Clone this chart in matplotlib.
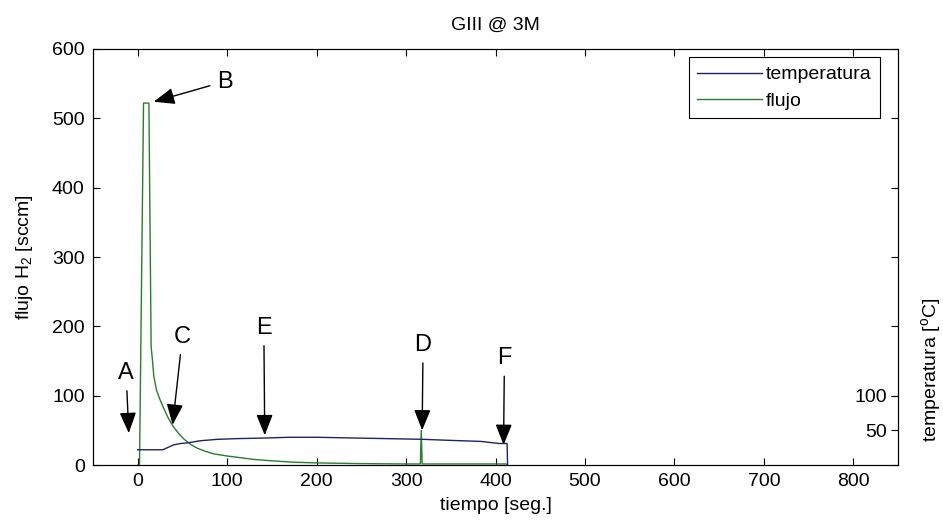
import matplotlib.pyplot as plt

plt.rcParams['font.family'] = ['Liberation Sans', 'DejaVu Sans']
plt.rcParams['mathtext.fontset'] = 'custom'
plt.rcParams['mathtext.rm'] = 'Liberation Sans'
plt.rcParams['mathtext.it'] = 'Liberation Sans'

# flujo de H2 [sccm] vs tiempo [seg.]
t_flujo = [0, 2, 6.5, 12.5, 15, 16, 18, 21, 25, 29, 34, 40, 46, 52, 60, 67, 75, 85,
           100, 112, 130, 150, 175, 200, 250, 300, 316, 317, 318, 412, 413]
flujo = [0, 0, 522, 522, 170, 158, 128, 108, 94, 82, 68, 55, 45, 37, 29, 24, 20, 16,
         13, 11, 8, 6, 4, 3, 2, 1.5, 1.5, 50, 1.5, 1.5, 0]

# temperatura [oC] vs tiempo [seg.]
t_temp = [0, 28, 35, 40, 48, 56, 70, 89, 110, 145, 170, 200, 240, 280, 320, 339,
          384, 404, 413, 413.5]
temp = [22, 22, 26, 29, 31, 32, 35, 37, 38, 39, 40, 40, 39, 38, 37, 36,
        34, 31, 31, 0]

# etiquetas: (letra, x texto, y texto, x punta, y punta)
etiquetas = [
    ('A', -13, 133, -10, 46),
    ('B', 97, 553, 18, 524),
    ('C', 50, 185, 39, 58),
    ('E', 141, 198, 142, 43),
    ('D', 319, 173, 318, 50),
    ('F', 410, 154, 409, 29),
]

fig = plt.figure(figsize=(9.43, 5.25), dpi=100)
ax = fig.add_axes([93 / 943, 60 / 525, 805 / 943, 416 / 525])
ax2 = ax.twinx()

c_temp = '#1f2366'
c_flujo = '#2a7d2e'

l_flujo, = ax.plot(t_flujo, flujo, color=c_flujo, lw=1.0)
l_temp, = ax2.plot(t_temp, temp, color=c_temp, lw=1.0)

ax.set_xlim(-50, 850)
ax.set_ylim(0, 600)
ax2.set_ylim(0, 600)
ax.set_xticks(range(0, 801, 100))
ax.set_yticks(range(0, 601, 100))
ax2.set_yticks([50, 100])

ax.tick_params(direction='in', length=5, width=0.8, labelsize=14, top=True, right=True,
               pad=6)
ax2.tick_params(axis='y', direction='in', length=5, width=0.8, labelsize=14, pad=-8)
for lbl in ax2.get_yticklabels():
    lbl.set_horizontalalignment('right')

for a in (ax, ax2):
    for s in a.spines.values():
        s.set_linewidth(0.8)

ax.set_title('GIII @ 3M', fontsize=14, pad=14)
ax.set_xlabel('tiempo [seg.]', fontsize=14, labelpad=5)
ax.set_ylabel('flujo H$_2$ [sccm]', fontsize=14, labelpad=12)
ax2.set_ylabel(r'temperatura [$^{\mathrm{o}}$C]', fontsize=14)
ax2.yaxis.set_label_coords(1.026, 0.228)

for letra, xt, yt, xp, yp in etiquetas:
    ax.annotate(letra, xy=(xp, yp), xytext=(xt, yt), ha='center', va='center',
                fontsize=17,
                arrowprops=dict(arrowstyle='-|>,head_length=0.75,head_width=0.3',
                                color='black', lw=1.0, shrinkA=3, shrinkB=0))

leg = ax2.legend([l_temp, l_flujo], ['temperatura', 'flujo'], loc='upper right',
                 bbox_to_anchor=(880 / 943, 1 - 57 / 525), bbox_transform=fig.transFigure,
                 borderaxespad=0, fontsize=14, handlelength=3.3, handletextpad=0.2,
                 labelspacing=0.45, borderpad=0.45, fancybox=False, framealpha=1)
leg.get_frame().set_edgecolor('black')
leg.get_frame().set_linewidth(0.8)

plt.savefig('out.png', dpi=100)
